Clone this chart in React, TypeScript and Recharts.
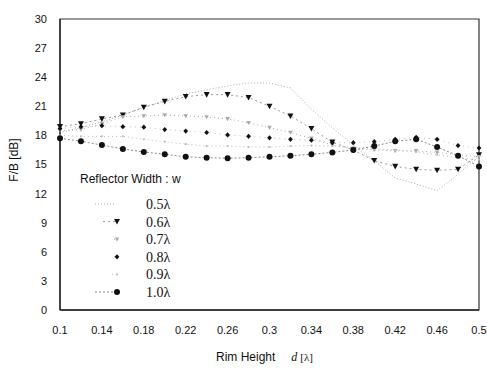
import { LineChart, Line, XAxis, YAxis, ReferenceArea, Legend } from 'recharts';

// Rim height d [λ]
const rimHeight = [
  0.1, 0.12, 0.14, 0.16, 0.18, 0.2, 0.22, 0.24, 0.26, 0.28, 0.3,
  0.32, 0.34, 0.36, 0.38, 0.4, 0.42, 0.44, 0.46, 0.48, 0.5,
];
const xTicks = [0.1, 0.14, 0.18, 0.22, 0.26, 0.3, 0.34, 0.38, 0.42, 0.46, 0.5];
const yTicks = [0, 3, 6, 9, 12, 15, 18, 21, 24, 27, 30];

// F/B [dB] per reflector width
const w05 = [18.3, 18.8, 19.4, 20.1, 20.9, 21.6, 22.3, 22.7, 23.1, 23.4, 23.4, 22.9, 20.7, 18.8, 17.0, 15.4, 13.6, 13.0, 12.3, 14.0, 15.8];
const w06 = [18.9, 19.2, 19.7, 20.1, 20.9, 21.5, 22.0, 22.2, 22.2, 21.9, 21.0, 20.0, 18.7, 17.3, 16.5, 15.4, 14.8, 14.5, 14.4, 14.5, 16.0];
const w07 = [18.5, 18.6, 19.2, 19.9, 20.0, 20.1, 20.0, 19.9, 19.7, 19.3, 18.8, 18.3, 17.7, 17.0, 16.6, 16.5, 16.4, 16.4, 16.25, 16.0, 15.8];
const w08 = [18.7, 18.9, 19.0, 18.9, 18.85, 18.6, 18.45, 18.3, 18.05, 17.9, 17.75, 17.6, 17.5, 17.25, 17.25, 17.35, 17.6, 17.8, 17.6, 16.95, 16.7];
const w09 = [18.0, 17.9, 17.9, 17.9, 17.6, 17.35, 17.1, 16.9, 16.9, 16.8, 16.8, 16.9, 16.95, 16.9, 16.8, 16.6, 16.5, 16.3, 16.0, 15.7, 15.5];
const w10 = [17.7, 17.4, 17.0, 16.6, 16.3, 16.05, 15.8, 15.7, 15.65, 15.7, 15.8, 15.9, 16.05, 16.25, 16.5, 16.9, 17.4, 17.6, 16.8, 15.9, 14.8];

const seriesNames = ['0.5λ', '0.6λ', '0.7λ', '0.8λ', '0.9λ', '1.0λ'];

const data = rimHeight.map((d, i) => ({
  d,
  w05: w05[i],
  w06: w06[i],
  w07: w07[i],
  w08: w08[i],
  w09: w09[i],
  w10: w10[i],
}));

const sans = 'Liberation Sans, Arial, sans-serif';
const serif = 'Liberation Serif, Times New Roman, serif';

// marker shapes
const markTri = (cx: number, cy: number, k?: any) => (
  <path key={k} d={`M${cx - 3},${cy - 2.6} L${cx + 3},${cy - 2.6} L${cx},${cy + 3} Z`} fill="#111" />
);
const markV = (cx: number, cy: number, k?: any) => (
  <path key={k} d={`M${cx - 2.3},${cy - 1.8} L${cx + 2.3},${cy - 1.8} L${cx},${cy + 2.3} Z`} fill="#aaa" />
);
const markDiamond = (cx: number, cy: number, k?: any) => (
  <path key={k} d={`M${cx},${cy - 2.6} L${cx + 2.4},${cy} L${cx},${cy + 2.6} L${cx - 2.4},${cy} Z`} fill="#111" />
);
const markTiny = (cx: number, cy: number, k?: any) => (
  <circle key={k} cx={cx} cy={cy} r={1.1} fill="#bbb" />
);
const markCircle = (cx: number, cy: number, k?: any) => (
  <circle key={k} cx={cx} cy={cy} r={3} fill="#111" />
);

const series = [
  { key: 'w05', stroke: '#aaa', dash: '1 2', mark: null, legendFrom: 25 },
  { key: 'w06', stroke: '#999', dash: '2 3', mark: markTri, legendFrom: 33 },
  { key: 'w07', stroke: '#aaa', dash: '1 3', mark: markV, legendFrom: 44 },
  { key: 'w08', stroke: '#bbb', dash: '1 4', mark: markDiamond, legendFrom: 44 },
  { key: 'w09', stroke: '#bbb', dash: '1 3', mark: markTiny, legendFrom: 42 },
  { key: 'w10', stroke: '#888', dash: '2 2', mark: markCircle, legendFrom: 25 },
];

const renderLegend = () => (
  <svg width={150} height={135} style={{ display: 'block' }}>
    <text x={10} y={15} fontSize={12} fontFamily={sans} fill="#111">
      Reflector Width : w
    </text>
    {series.map((s, i) => {
      const y = 36 + i * 17.6;
      return (
        <g key={s.key}>
          <line x1={s.legendFrom} x2={s.mark ? 46 : 45} y1={y} y2={y} stroke={s.stroke} strokeDasharray={s.dash} />
          {s.mark ? s.mark(47, y) : null}
          <text x={76} y={y + 5} fontSize={14} fontFamily={serif} fill="#111">
            {seriesNames[i]}
          </text>
        </g>
      );
    })}
  </svg>
);

export default function App() {
  return (
    <div style={{ width: 487, height: 368, background: '#fff', fontFamily: sans }}>
      <style>{`body{margin:0}`}</style>
      <LineChart width={487} height={368} data={data} margin={{ top: 19, right: 8, bottom: 0, left: 0 }}>
        <XAxis
          dataKey="d"
          type="number"
          domain={[0.1, 0.5]}
          ticks={xTicks}
          tickLine={false}
          tickMargin={10}
          height={58}
          axisLine={{ stroke: '#222', strokeWidth: 1.3 }}
          tick={{ fontSize: 11, fill: '#111', fontFamily: sans }}
          label={{
            content: ({ viewBox }: any) => (
              <text x={viewBox.x + viewBox.width / 2 - 5} y={361} textAnchor="middle" fill="#111">
                <tspan fontSize={12} fontFamily={sans}>Rim Height</tspan>
                <tspan dx={16} fontSize={12} fontFamily={serif} fontStyle="italic">d</tspan>
                <tspan dx={3} fontSize={11} fontFamily={serif}>[λ]</tspan>
              </text>
            ),
          }}
        />
        <YAxis
          type="number"
          domain={[0, 30]}
          ticks={yTicks}
          width={60}
          tickLine={false}
          tickMargin={7}
          axisLine={{ stroke: '#222', strokeWidth: 1.3 }}
          tick={{ fontSize: 11, fill: '#111', fontFamily: sans }}
          label={{
            content: () => (
              <text x={18} y={160} transform="rotate(-90 18 160)" textAnchor="middle" fontSize={12} fontFamily={sans} fill="#111">
                F/B [dB]
              </text>
            ),
          }}
        />
        <ReferenceArea x1={0.1} x2={0.5} y1={0} y2={30} fill="none" stroke="#333" strokeWidth={1.2} />
        <Legend
          layout="horizontal"
          verticalAlign="middle"
          content={renderLegend}
          wrapperStyle={{ position: 'absolute', left: 70, top: 168, width: 150, height: 135 }}
        />
        {series.map((s) => (
          <Line
            key={s.key}
            dataKey={s.key}
            stroke={s.stroke}
            strokeWidth={1}
            strokeDasharray={s.dash}
            isAnimationActive={false}
            dot={
              s.mark
                ? (p: any) => s.mark!(p.cx, p.cy, `${s.key}-${p.index}`)
                : false
            }
            activeDot={false}
          />
        ))}
      </LineChart>
    </div>
  );
}
